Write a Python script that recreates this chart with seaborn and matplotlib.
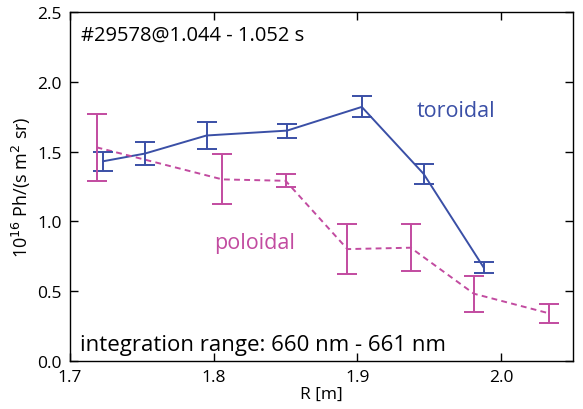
import matplotlib
matplotlib.use("Agg")
import matplotlib.pyplot as plt
import seaborn as sns
import pandas as pd

# Data
tor_R = [1.723, 1.752, 1.795, 1.851, 1.903, 1.946, 1.988]
tor_val = [1.43, 1.485, 1.615, 1.65, 1.82, 1.34, 0.665]
tor_err = [0.07, 0.085, 0.10, 0.05, 0.075, 0.073, 0.04]

pol_R = [1.7185, 1.806, 1.850, 1.893, 1.937, 1.981, 2.033]
pol_val = [1.53, 1.30, 1.29, 0.80, 0.81, 0.48, 0.34]
pol_err = [0.24, 0.18, 0.047, 0.18, 0.17, 0.13, 0.067]

x_ticks = [1.7, 1.8, 1.9, 2.0]
y_ticks = [0.0, 0.5, 1.0, 1.5, 2.0, 2.5]

blue = "#3a4fa6"
pink = "#c24ba0"

sns.set_theme(style="ticks")
plt.rcParams['font.family'] = ['Open Sans', 'DejaVu Sans']
plt.rcParams['text.color'] = 'black'
plt.rcParams['axes.labelcolor'] = 'black'

fig = plt.figure(figsize=(5.83, 4.10), dpi=100)
ax = fig.add_axes([0.120, 0.118, 0.863, 0.850])

tor = pd.DataFrame({"R": tor_R, "v": tor_val})
pol = pd.DataFrame({"R": pol_R, "v": pol_val})

sns.lineplot(data=tor, x="R", y="v", ax=ax, color=blue, lw=1.4, sort=False)
sns.lineplot(data=pol, x="R", y="v", ax=ax, color=pink, lw=1.4, sort=False,
             linestyle=(0, (3, 2.2)))
ax.errorbar(tor_R, tor_val, yerr=tor_err, fmt="none", ecolor=blue,
            elinewidth=1.4, capsize=7, capthick=1.4)
ax.errorbar(pol_R, pol_val, yerr=pol_err, fmt="none", ecolor=pink,
            elinewidth=1.4, capsize=7, capthick=1.4)

ax.set_xlim(1.7, 2.05)
ax.set_ylim(0.0, 2.5)
ax.set_xticks(x_ticks)
ax.set_xticklabels([f"{t:.1f}" for t in x_ticks])
ax.set_yticks(y_ticks)
ax.set_yticklabels([f"{t:.1f}" for t in y_ticks])
ax.tick_params(direction="in", length=6, width=1, top=True, right=True,
               labelsize=12.5, colors="black", pad=6)
for s in ax.spines.values():
    s.set_linewidth(1.0)
    s.set_color("black")

ax.set_xlabel("R [m]", fontsize=12.5, labelpad=1)
ax.set_ylabel(r"10$^{16}$ Ph/(s m$^{2}$ sr)", fontsize=13, labelpad=3)

ax.text(0.022, 0.935, "#29578@1.044 - 1.052 s", transform=ax.transAxes,
        fontsize=14.5, va="center", ha="left")
ax.text(0.020, 0.045, "integration range: 660 nm - 661 nm", transform=ax.transAxes,
        fontsize=16, va="center", ha="left")
ax.text(0.767, 0.718, "toroidal", transform=ax.transAxes, color=blue,
        fontsize=15.5, va="center", ha="center")
ax.text(0.367, 0.340, "poloidal", transform=ax.transAxes, color=pink,
        fontsize=15.5, va="center", ha="center")

fig.savefig("out.png", dpi=100)
